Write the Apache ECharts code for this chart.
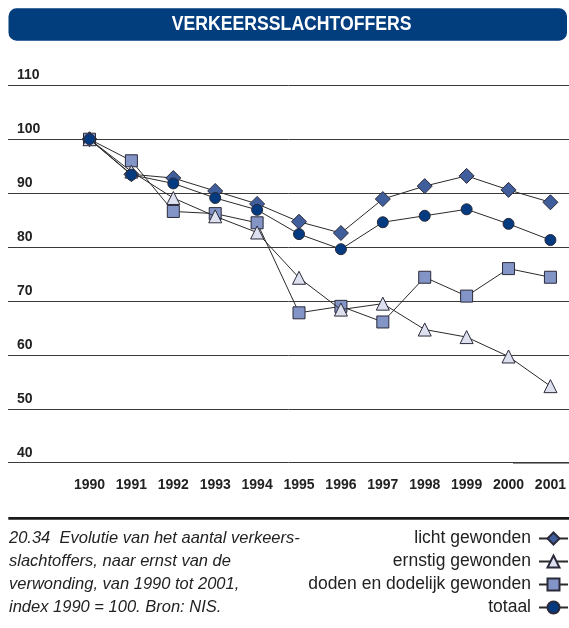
<!DOCTYPE html>
<html>
<head>
<meta charset="utf-8">
<script src="https://cdn.jsdelivr.net/npm/echarts@6/dist/echarts.min.js"></script>
<style>
html,body{margin:0;padding:0;background:#fff;}
#chart{width:569px;height:628px;}
</style>
</head>
<body>
<div id="chart"></div>
<script>
const years = ['1990','1991','1992','1993','1994','1995','1996','1997','1998','1999','2000','2001'];
const lichtGewonden = [100, 93.5, 92.8, 90.4, 88.0, 84.7, 82.6, 88.9, 91.3, 93.2, 90.6, 88.3];
const ernstigGewonden = [100, 94.0, 89.1, 85.7, 82.7, 74.3, 68.4, 69.5, 64.7, 63.3, 59.7, 54.2];
const dodenDodelijk = [100, 96.0, 86.6, 86.2, 84.5, 67.8, 69.0, 66.1, 74.4, 70.9, 76.0, 74.4];
const totaal = [100, 93.4, 91.8, 89.1, 86.9, 82.4, 79.6, 84.6, 85.8, 87.0, 84.3, 81.3];
const seriesNames = ['licht gewonden', 'ernstig gewonden', 'doden en dodelijk gewonden', 'totaal'];
const yTicks = { min: 40, max: 110, interval: 10 };
const titleText = 'VERKEERSSLACHTOFFERS';
const captionLines = [
  '20.34  Evolutie van het aantal verkeers-',
  'slachtoffers, naar ernst van de',
  'verwonding, van 1990 tot 2001,',
  'index 1990 = 100. Bron: NIS.'
];

const boldFont = "'Liberation Sans', Arial, sans-serif";
const regular = "'Liberation Sans', Arial, sans-serif";
const chart = echarts.init(document.getElementById('chart'), null, {renderer: 'canvas'});

function lineSeries(name, data, symbol, size, fill, z) {
  return {
    name: name, type: 'line', data: data,
    xAxisIndex: 1, yAxisIndex: 1,
    symbol: symbol, symbolSize: size,
    showAllSymbol: true,
    z: z,
    lineStyle: { color: '#2a2a2a', width: 1 },
    itemStyle: { color: fill, borderColor: '#2a2a3a', borderWidth: 1 },
    emphasis: { disabled: true },
    animation: false
  };
}

chart.setOption({
  animation: false,
  backgroundColor: '#fff',
  grid: [
    { left: 8, right: 0, top: 85.3, bottom: 165.3 },
    { left: 89.5, right: 16.3, top: 85.3, bottom: 165.3 }
  ],
  xAxis: [
    { type: 'category', gridIndex: 0, show: false, data: years },
    { type: 'category', gridIndex: 1, data: years, boundaryGap: false,
      axisLine: { show: false }, axisTick: { show: false },
      axisLabel: { interval: 0, fontFamily: boldFont, fontWeight: 'bold', fontSize: 14, color: '#222', margin: 15 } }
  ],
  yAxis: [
    { type: 'value', gridIndex: 0, min: yTicks.min, max: yTicks.max, interval: yTicks.interval,
      axisLine: { show: false }, axisTick: { show: false },
      splitLine: { show: true, lineStyle: { color: '#3a3a3a', width: 1 } },
      axisLabel: { inside: true, margin: 9, verticalAlign: 'bottom', padding: [0,0,3,0],
        fontFamily: boldFont, fontWeight: 'bold', fontSize: 14, color: '#222' } },
    { type: 'value', gridIndex: 1, min: yTicks.min, max: yTicks.max, interval: yTicks.interval,
      show: false, splitLine: { show: false } }
  ],
  legend: {
    data: seriesNames,
    orient: 'vertical', right: 0, top: 527, padding: 0,
    align: 'right',
    itemWidth: 29, itemHeight: 15, itemGap: 0,
    textStyle: { fontFamily: regular, fontSize: 17.5, color: '#222', lineHeight: 23, padding: [0, 3, 0, 0] },
    selectedMode: false
  },
  series: [
    lineSeries(seriesNames[0], lichtGewonden, 'diamond', 15, '#415e9c', 2),
    lineSeries(seriesNames[1], ernstigGewonden, 'triangle', 13, '#dde0ee', 4),
    lineSeries(seriesNames[2], dodenDodelijk, 'rect', 12, '#8394c6', 3),
    lineSeries(seriesNames[3], totaal, 'circle', 11, '#033a80', 5)
  ],
  graphic: [
    { type: 'rect', shape: { x: 8.5, y: 8.3, width: 558.5, height: 32.4, r: 8 }, style: { fill: '#023d7e' }, silent: true },
    { type: 'text', x: 291.7, y: 24.5, scaleX: 0.84, style: { x: 0, y: 0, text: titleText, fill: '#fff', font: "bold 21px " + boldFont, textAlign: 'center', textVerticalAlign: 'middle' }, silent: true },
    { type: 'line', shape: { x1: 8.3, y1: 518.3, x2: 569, y2: 518.3 }, style: { stroke: '#1a1a1a', lineWidth: 2.7 }, silent: true },
    { type: 'line', shape: { x1: 513, y1: 462.8, x2: 569, y2: 462.8 }, style: { stroke: '#222', lineWidth: 1.4 }, silent: true },
    { type: 'text', x: 9, y: 527, style: { text: captionLines.join('\n'), fill: '#222', font: "italic 16.5px " + regular, lineHeight: 23 }, silent: true }
  ]
});
</script>
</body>
</html>
